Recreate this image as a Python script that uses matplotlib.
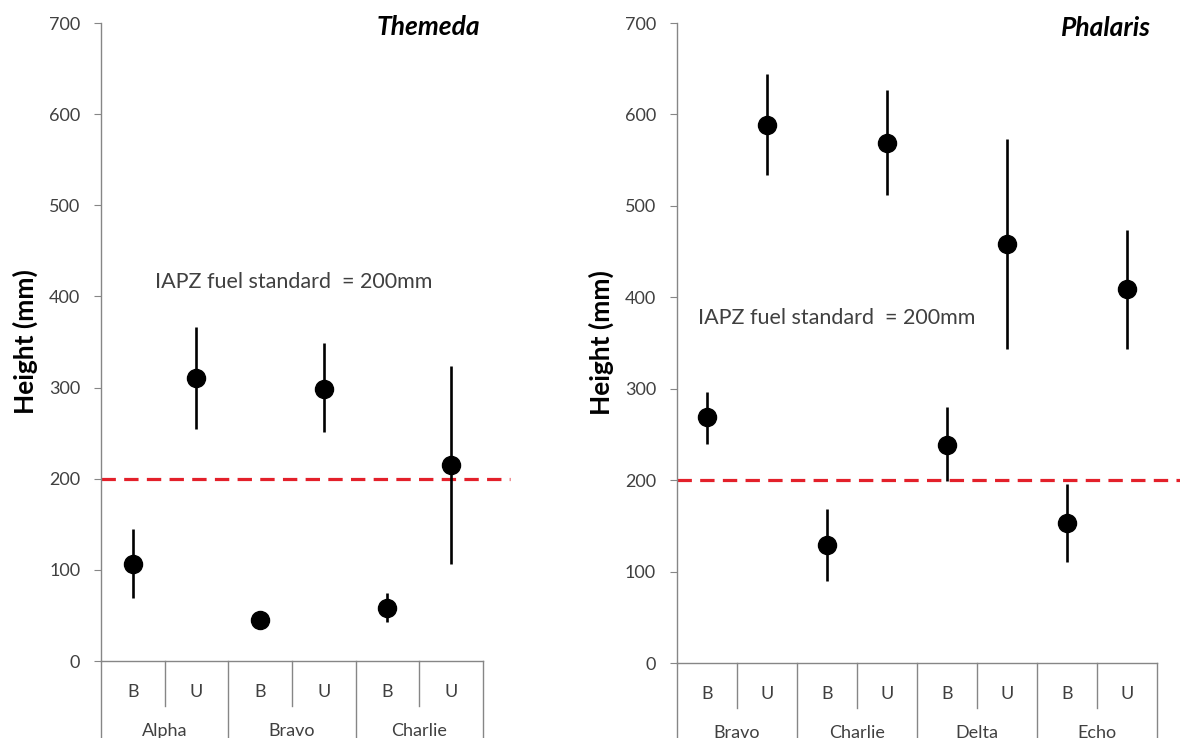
import matplotlib.pyplot as plt
import matplotlib.transforms as mtransforms

plt.rcParams["font.family"] = ["Lato", "DejaVu Sans"]

# Themeda panel
themeda_sites = ["Alpha", "Bravo", "Charlie"]
themeda_mean = [106, 310, 45, 299, 58, 215]
themeda_low = [69, 255, 45, 251, 43, 107]
themeda_high = [145, 366, 45, 349, 75, 324]

# Phalaris panel
phalaris_sites = ["Bravo", "Charlie", "Delta", "Echo"]
phalaris_mean = [269, 588, 129, 569, 238, 458, 153, 409]
phalaris_low = [240, 534, 90, 512, 199, 344, 110, 343]
phalaris_high = [296, 644, 169, 627, 280, 573, 196, 474]

treatments = ["B", "U"]
fuel_standard = 200
yticks = [0, 100, 200, 300, 400, 500, 600, 700]

GREY = "#868686"
TEXT = "#404040"


def draw_panel(ax, sites, mean, low, high, title, title_x, note_xy, line_ext):
    n = len(mean)
    x = [i + 0.5 for i in range(n)]
    yerr = [[m - l for m, l in zip(mean, low)], [h - m for m, h in zip(mean, high)]]
    ax.errorbar(x, mean, yerr=yerr, fmt="o", color="black", ms=13,
                elinewidth=1.9, capsize=0, zorder=3)

    ax.axhline(fuel_standard, xmin=0, xmax=line_ext, color="#e3202a", lw=2.3,
               dashes=(4.5, 2.6), clip_on=False, zorder=2)

    ax.set_xlim(0, n)
    ax.set_ylim(0, 700)
    ax.set_yticks(yticks)
    ax.set_xticks([])
    ax.tick_params(axis="y", length=5, color=GREY, labelcolor=TEXT, labelsize=13, pad=10)
    for s in ["top", "right"]:
        ax.spines[s].set_visible(False)
    for s in ["left", "bottom"]:
        ax.spines[s].set_color(GREY)
        ax.spines[s].set_linewidth(1)

    # category axis below the plot
    trans = mtransforms.blended_transform_factory(ax.transData, ax.transAxes)
    for b in range(n + 1):
        depth = -0.2 if b % 2 == 0 else -0.07
        ax.plot([b, b], [0, depth], color=GREY, lw=1, transform=trans, clip_on=False)
    for i in range(n):
        ax.text(i + 0.5, -0.048, treatments[i % 2], transform=trans, ha="center",
                va="center", fontsize=13, color=TEXT)
    for j, site in enumerate(sites):
        ax.text(2 * j + 1, -0.11, site, transform=trans, ha="center",
                va="center", fontsize=13, color=TEXT)

    ax.text(note_xy[0], note_xy[1], "IAPZ fuel standard  = 200mm", fontsize=15.5,
            color=TEXT, va="center", ha="left")
    ax.text(title_x, 0.993, title, transform=ax.transAxes, ha="right", va="center",
            fontsize=19, fontweight="bold", fontstyle="italic", color="black")
    ax.set_ylabel("Height (mm)", fontsize=19, fontweight="bold", color="black", labelpad=8)


fig = plt.figure(figsize=(11.8, 7.38), dpi=100)
ax1 = fig.add_axes([0.0856, 0.1043, 0.3237, 0.8645])
ax2 = fig.add_axes([0.5737, 0.1016, 0.4068, 0.8672])

draw_panel(ax1, themeda_sites, themeda_mean, themeda_low, themeda_high,
           "Themeda", 0.992, (0.85, 416), 1.07)
draw_panel(ax2, phalaris_sites, phalaris_mean, phalaris_low, phalaris_high,
           "Phalaris", 0.9875, (0.35, 377), 1.05)

fig.savefig("out.png", dpi=100)
